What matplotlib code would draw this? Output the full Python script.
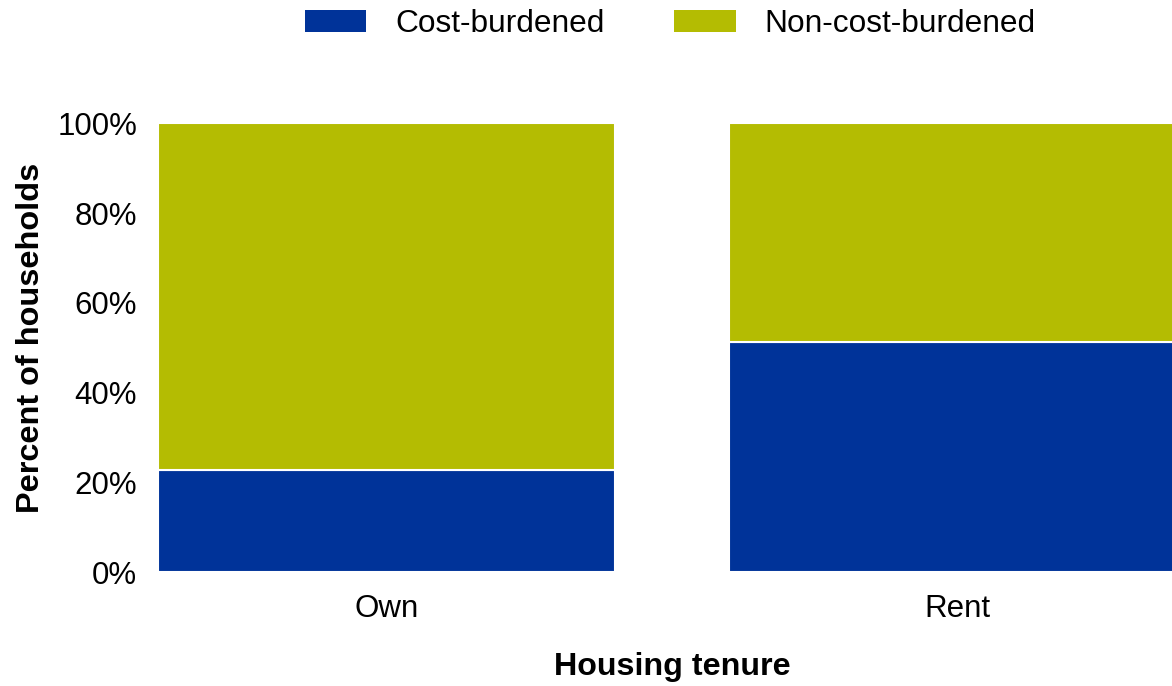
import matplotlib
matplotlib.use("Agg")
import matplotlib.pyplot as plt

plt.rcParams['font.family'] = ['Liberation Sans', 'DejaVu Sans']

categories = ["Own", "Rent"]
cost_burdened = [22.7, 51.3]
non_cost_burdened = [77.3, 48.7]
series_labels = ["Cost-burdened", "Non-cost-burdened"]
yticks = [0, 20, 40, 60, 80, 100]
ytick_labels = ["0%", "20%", "40%", "60%", "80%", "100%"]

blue = "#003399"
olive = "#b4bc02"

fig = plt.figure(figsize=(11.72, 6.86), dpi=100)
ax = fig.add_axes([158/1172, 1 - 572/686, 1028/1172, (572 - 123.3)/686])

x = list(range(len(categories)))
ax.bar(x, cost_burdened, width=0.8, color=blue, edgecolor="white", linewidth=1.5,
       label=series_labels[0])
ax.bar(x, non_cost_burdened, width=0.8, bottom=cost_burdened, color=olive,
       edgecolor="white", linewidth=1.5, label=series_labels[1])

ax.set_xlim(-0.4, 1.4)
ax.set_ylim(0, 100)
ax.set_xticks(x)
ax.set_xticklabels(categories, fontsize=22.5)
ax.set_yticks(yticks)
ax.set_yticklabels(ytick_labels, fontsize=22.5)
ax.tick_params(axis='both', length=0)
ax.tick_params(axis='y', pad=15)
ax.tick_params(axis='x', pad=16)
for s in ax.spines.values():
    s.set_visible(False)

ax.set_ylabel("Percent of households", fontsize=23.4, fontweight='bold', labelpad=8)
ax.yaxis.label.set_y((572 - 337.5) / 448.7)
fig.text(672/1172, 1 - 667/686, "Housing tenure", fontsize=23.2, fontweight='bold',
         ha='center', va='center')

handles, labels = ax.get_legend_handles_labels()
leg = fig.legend(handles, labels, loc='center', bbox_to_anchor=(670/1172, 1 - 24/686),
                 ncol=2, frameon=False, fontsize=22.8, handlelength=1.95,
                 handleheight=0.7, handletextpad=0.9, columnspacing=2.2,
                 borderpad=0, borderaxespad=0)
for h in leg.legend_handles:
    h.set_edgecolor('none')

fig.savefig("out.png", dpi=100)
